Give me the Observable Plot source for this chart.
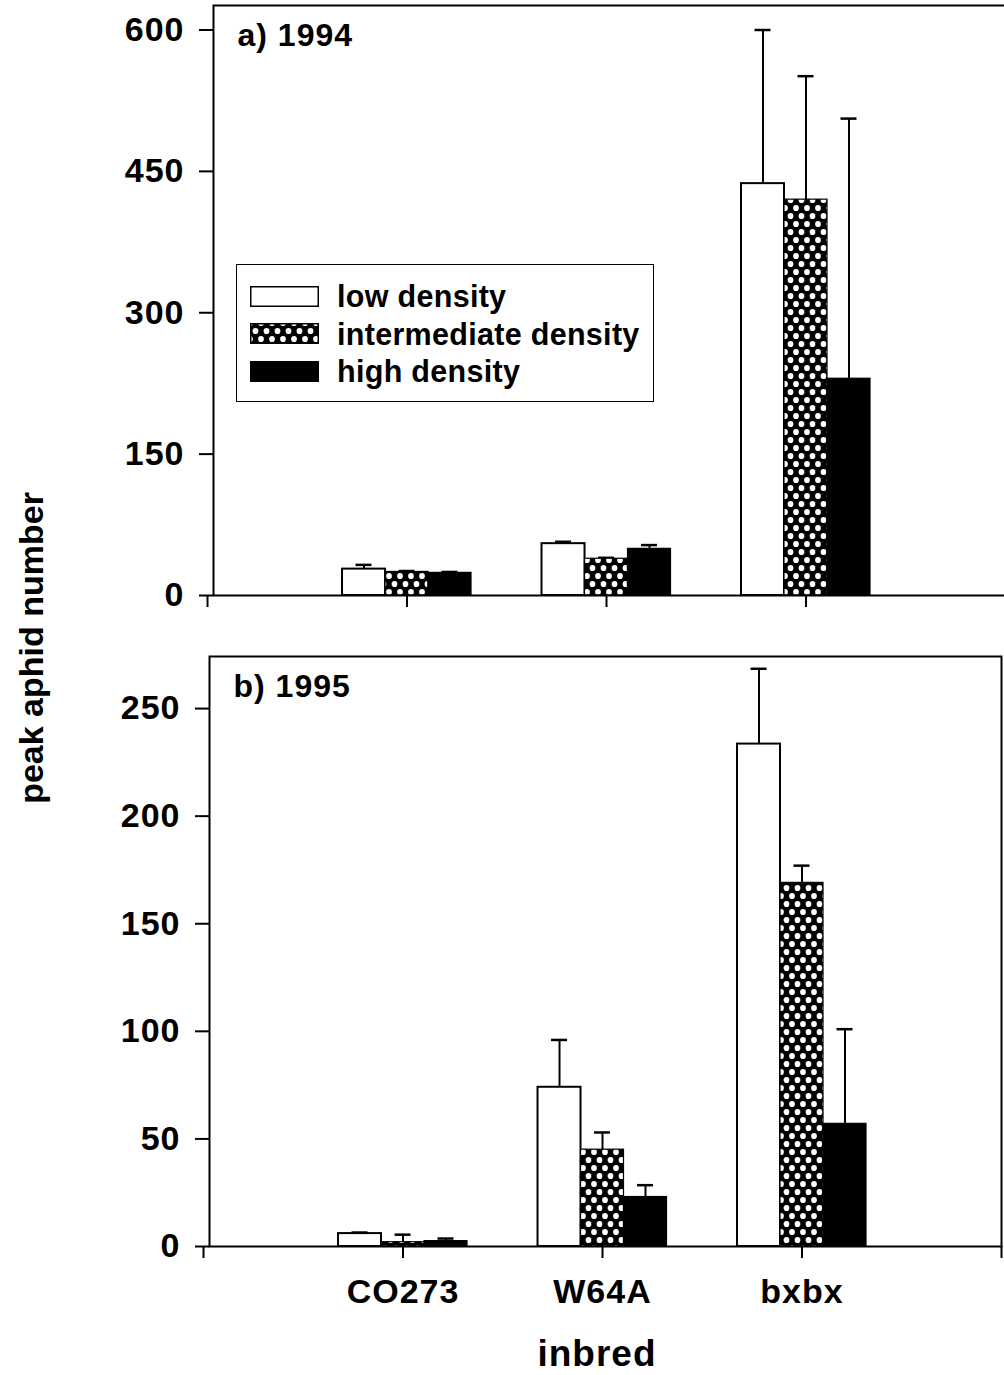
<!DOCTYPE html>
<html>
<head>
<meta charset="utf-8">
<script src="https://cdn.jsdelivr.net/npm/d3@7"></script>
<script src="https://cdn.jsdelivr.net/npm/@observablehq/plot@0.6"></script>
<style>
  html, body { margin: 0; padding: 0; background: #fff; overflow: hidden; }
  #chart {
    position: relative; width: 1004px; height: 1375px; overflow: hidden;
    font-family: "Liberation Sans", Arial, sans-serif; font-weight: bold; color: #000;
  }
  #chart > svg.panel { position: absolute; }
  #chart [aria-label$="tick label"] { letter-spacing: 1px; }
  #chart [aria-label="text"] { letter-spacing: 1px; }
  .legend {
    position: absolute; box-sizing: border-box; border: 1.5px solid #000; background: #fff;
  }
  .legend .item { position: absolute; left: 13px; height: 22px; display: flex; align-items: center; }
  .legend .item svg { display: block; margin-right: 18px; }
  .legend .item span { font-size: 30.5px; letter-spacing: 0.3px; line-height: 22px; white-space: nowrap; }
  .axis-title { position: absolute; white-space: nowrap; line-height: 1; }
</style>
</head>
<body>
<svg width="0" height="0" style="position:absolute">
  <defs>
    <!-- diamond lattice used for the intermediate-density bars -->
    <pattern id="hatch" patternUnits="userSpaceOnUse" width="11" height="16">
      <rect width="11" height="16" fill="#000"/>
      <ellipse cx="0" cy="0" rx="2.9" ry="3.1" fill="#fff"/>
      <ellipse cx="11" cy="0" rx="2.9" ry="3.1" fill="#fff"/>
      <ellipse cx="0" cy="16" rx="2.9" ry="3.1" fill="#fff"/>
      <ellipse cx="11" cy="16" rx="2.9" ry="3.1" fill="#fff"/>
      <ellipse cx="5.5" cy="8" rx="2.9" ry="3.1" fill="#fff"/>
    </pattern>
  </defs>
</svg>
<div id="chart"></div>
<script>
// Inbred lines and aphid density treatments
const inbreds = ["CO273", "W64A", "bxbx"];
const densities = ["low density", "intermediate density", "high density"];
const densityFills = ["#ffffff", "url(#hatch)", "#000000"];

// 1994: mean peak aphid number and standard error, per inbred
const mean1994Low = [28, 55, 437];
const se1994Low = [4.5, 2, 163];
const mean1994Mid = [25, 39, 420];
const se1994Mid = [1, 1, 131];
const mean1994High = [24, 49.5, 230];
const se1994High = [1, 4, 276];

// 1995
const mean1995Low = [6, 74, 233.5];
const se1995Low = [0.5, 22, 35];
const mean1995Mid = [2, 45, 169];
const se1995Mid = [3.5, 8, 8];
const mean1995High = [2.5, 23, 57];
const se1995High = [1.2, 5.5, 44];

// axis ticks
const ticks1994 = [0, 150, 300, 450, 600];
const ticks1995 = [0, 50, 100, 150, 200, 250];
const slotTicks = [0, 1, 2, 3, 4];

const barW = 0.2155;   // bar width in slot units
const capHalf = 0.04;  // half width of error-bar caps

function rowsFor(means, ses) {
  return densities.flatMap((density, j) =>
    inbreds.map((inbred, i) => ({
      inbred, density, j,
      slot: i + 1 + (j - 1) * barW,
      mean: means[j][i],
      se: ses[j][i]
    }))
  );
}

function panel({rows, yMax, yTicks, title, showNames, height, marginTop, marginBottom}) {
  const bars = densities.map((d, j) =>
    Plot.rectY(rows.filter(r => r.j === j), {
      x1: r => r.slot - barW / 2,
      x2: r => r.slot + barW / 2,
      y1: 0,
      y2: "mean",
      fill: densityFills[j],
      stroke: "black",
      strokeWidth: j === 0 ? 2 : 1.2
    })
  );
  const svg = Plot.plot({
    width: 1004,
    height,
    marginLeft: 209,
    marginRight: 3,
    marginTop,
    marginBottom,
    x: {type: "linear", domain: [0.03, 4]},
    y: {domain: [0, yMax]},
    style: {
      fontFamily: "'Liberation Sans', Arial, sans-serif",
      fontSize: "34px",
      fontWeight: "bold",
      color: "black",
      background: "transparent",
      overflow: "visible"
    },
    marks: [
      Plot.axisY({ticks: yTicks, tickSize: 14, tickPadding: 15, strokeWidth: 2, label: null}),
      Plot.axisX({
        ticks: slotTicks, tickSize: 12, tickPadding: 20, strokeWidth: 2, label: null,
        tickFormat: v => (showNames ? inbreds[v - 1] ?? "" : "")
      }),
      Plot.ruleX(rows, {x: "slot", y1: "mean", y2: r => r.mean + r.se, strokeWidth: 2}),
      Plot.ruleY(rows, {
        y: r => r.mean + r.se,
        x1: r => r.slot - capHalf,
        x2: r => r.slot + capHalf,
        strokeWidth: 2.5
      }),
      ...bars,
      Plot.frame({stroke: "black", strokeWidth: 2}),
      Plot.text([title], {
        frameAnchor: "top-left", textAnchor: "start", lineAnchor: "top",
        dx: 24, dy: 18, fontSize: 32, fontWeight: "bold"
      })
    ]
  });
  svg.classList.add("panel");
  return svg;
}

const chart = document.getElementById("chart");

const panelA = panel({
  rows: rowsFor([mean1994Low, mean1994Mid, mean1994High], [se1994Low, se1994Mid, se1994High]),
  yMax: 626, yTicks: ticks1994, title: "a) 1994", showNames: false,
  height: 620, marginTop: 5, marginBottom: 25
});
panelA.style.left = "4px";
panelA.style.top = "0px";
chart.appendChild(panelA);

const panelB = panel({
  rows: rowsFor([mean1995Low, mean1995Mid, mean1995High], [se1995Low, se1995Mid, se1995High]),
  yMax: 274.2, yTicks: ticks1995, title: "b) 1995", showNames: true,
  height: 735, marginTop: 16, marginBottom: 129
});
panelB.style.left = "0px";
panelB.style.top = "640px";
chart.appendChild(panelB);

// legend box inside panel a
const legend = document.createElement("div");
legend.className = "legend";
Object.assign(legend.style, {left: "236px", top: "264px", width: "418px", height: "138px"});
densities.forEach((d, j) => {
  const item = document.createElement("div");
  item.className = "item";
  item.style.top = (20 + j * 37.5) + "px";
  item.innerHTML =
    `<svg width="69" height="21"><rect x="0.75" y="0.75" width="67.5" height="19.5" fill="${densityFills[j]}" stroke="#000" stroke-width="1.5"/></svg><span>${d}</span>`;
  legend.appendChild(item);
});
chart.appendChild(legend);

// shared axis titles
const yTitle = document.createElement("div");
yTitle.className = "axis-title";
yTitle.textContent = "peak aphid number";
Object.assign(yTitle.style, {
  left: "31px", top: "648px", fontSize: "34px",
  transform: "translate(-50%, -50%) rotate(-90deg)"
});
chart.appendChild(yTitle);

const xTitle = document.createElement("div");
xTitle.className = "axis-title";
xTitle.textContent = "inbred";
Object.assign(xTitle.style, {
  left: "597px", top: "1335px", fontSize: "37px", letterSpacing: "1px",
  transform: "translateX(-50%)"
});
chart.appendChild(xTitle);
</script>
</body>
</html>
